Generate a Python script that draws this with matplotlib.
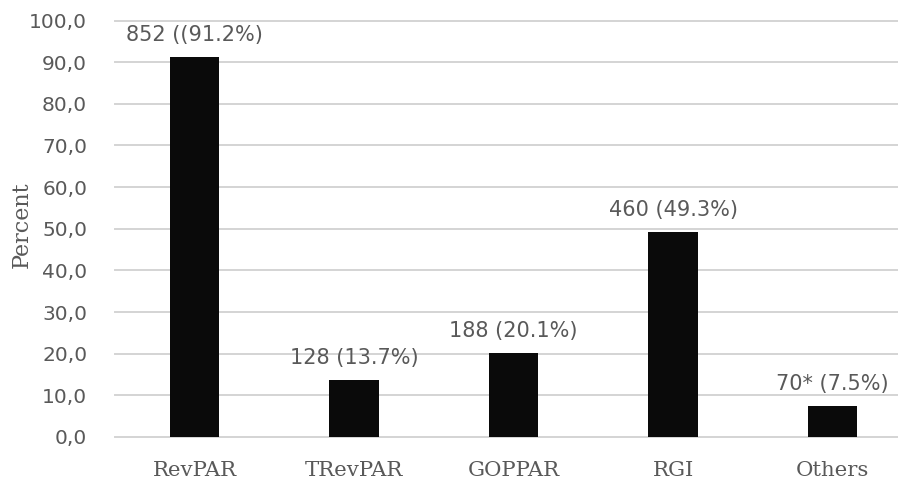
import numpy as np
import matplotlib
matplotlib.use('Agg')
import matplotlib.pyplot as plt

# datos
categorias = ['RevPAR', 'TRevPAR', 'GOPPAR', 'RGI', 'Others']
porcentajes = [91.2, 13.7, 20.1, 49.3, 7.5]
etiquetas = ['852 ((91.2%)', '128 (13.7%)', '188 (20.1%)', '460 (49.3%)', '70* (7.5%)']
yticks = np.arange(0, 101, 10)

SANS = 'DejaVu Sans'
SERIF = 'DejaVu Serif'
GRIS = '#595959'


def main():
    fig = plt.figure(figsize=(8.98, 4.82), dpi=100)
    ax = fig.add_axes([0.128, 0.0934, 0.872, 0.864])

    x = np.arange(len(categorias))
    ax.bar(x, porcentajes, width=0.31, color='#0a0a0a', zorder=3)

    # etiquetas de valor sobre cada barra
    for xi, v, t in zip(x, porcentajes, etiquetas):
        ax.annotate(t, (xi, v), xytext=(0, 8.5), textcoords='offset points',
                    ha='center', va='bottom', fontsize=15, family=SANS, color=GRIS)

    ax.set_xlim(-0.5, 4.41)
    ax.set_ylim(0, 100)
    ax.set_yticks(yticks)
    ax.set_yticklabels([f"{t:.1f}".replace('.', ',') for t in yticks],
                       fontsize=14.5, family=SANS, color=GRIS)
    ax.set_xticks(x)
    ax.set_xticklabels(categorias, fontsize=15.3, family=SERIF, color=GRIS)
    ax.tick_params(axis='y', length=0, pad=20)
    ax.tick_params(axis='x', length=0, pad=17)

    # cuadrícula horizontal (sin recortar en los bordes)
    ax.grid(axis='y', color='#d4d4d4', linewidth=1.4, zorder=0)
    for gl in ax.get_ygridlines():
        gl.set_clip_on(False)
    for s in ax.spines.values():
        s.set_visible(False)

    ax.set_ylabel('Percent', fontsize=16, family=SERIF, color=GRIS)
    ax.yaxis.set_label_coords(-0.105, 0.51)

    fig.savefig('out.png', dpi=100)


if __name__ == "__main__":
    main()
